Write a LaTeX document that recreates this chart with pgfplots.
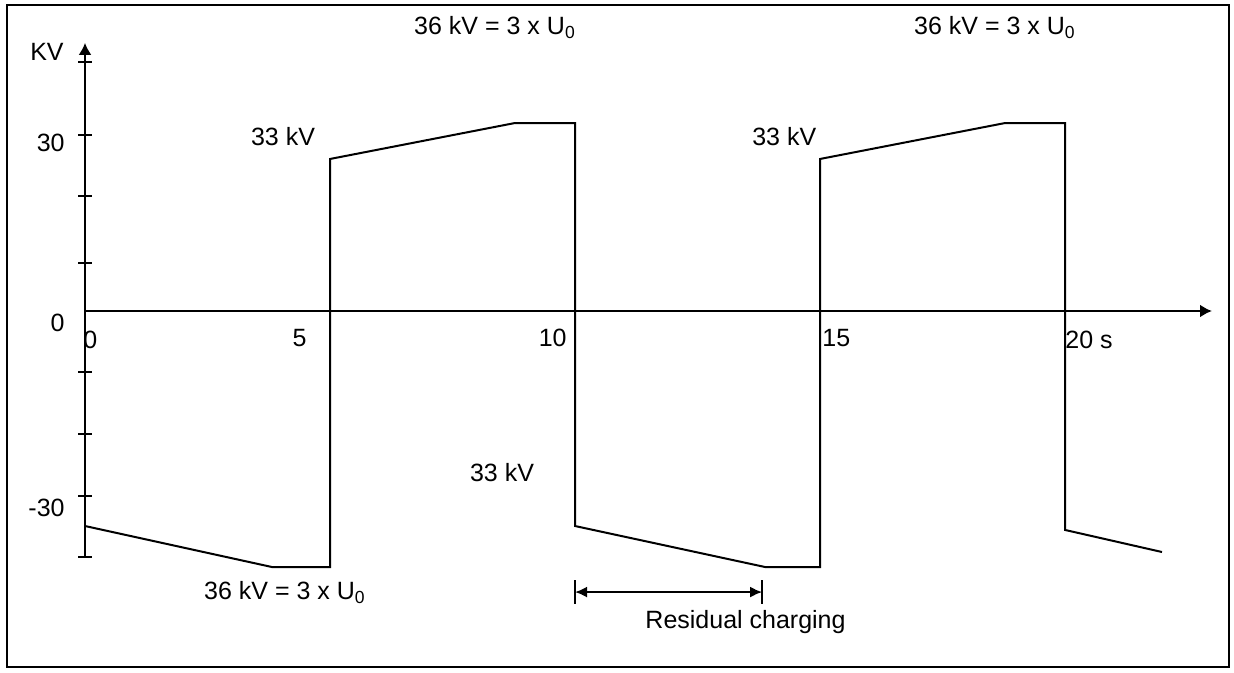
\documentclass[border=0pt]{standalone}
\usepackage{pgfplots}
\pgfplotsset{compat=1.18}
\usepackage{fontspec}
\setmainfont{Liberation Sans}
\usetikzlibrary{arrows.meta}
\begin{document}
\begin{tikzpicture}
\begin{axis}[
  x=24.5bp, y=3.075bp,
  axis lines=middle,
  xmin=0, xmax=23, ymin=-40, ymax=43.6,
  enlargelimits=false,
  clip=false,
  xtick=\empty,
  ytick={-40,-30.1,-20,-9.9,7.8,18.7,28.6,40.5},
  yticklabel=\empty,
  tick align=center,
  major tick length=7bp,
  tick style={line width=1.1bp, black},
  axis line style={line width=1.1bp},
  every inner x axis line/.append style={-{Latex[length=6bp,width=6.5bp]}},
  every inner y axis line/.append style={-{Latex[length=6bp,width=6.5bp]}},
  font=\fontsize{12.5bp}{15bp}\selectfont,
]
\addplot[black, line width=1bp, mark=none] coordinates {
  (0,-34.96) (3.816,-41.63) (5,-41.63) (5,24.72) (8.776,30.57) (10,30.57)
  (10,-34.96) (13.88,-41.63) (15,-41.63) (15,24.72) (18.78,30.57) (20,30.57)
  (20,-35.6) (21.98,-39.19)
};
% frame
\draw[line width=0.9bp] (axis cs:-1.592,49.76) rectangle (axis cs:23.35,-57.89);
\path (axis cs:-1.735,50.57) coordinate (tr0) (axis cs:23.449,-58.70) coordinate (bl0);
% axis texts
\node at (axis cs:-0.776,42.11) {KV};
\node[anchor=east, inner sep=0pt] at (axis cs:-0.408,27.32) {30};
\node[anchor=east, inner sep=0pt] at (axis cs:-0.408,-1.95) {0};
\node[anchor=east, inner sep=0pt] at (axis cs:-0.408,-32.03) {-30};
\node[anchor=west, inner sep=0pt] at (axis cs:-0.041,-4.72) {0};
\node[anchor=east, inner sep=0pt] at (axis cs:4.531,-4.39) {5};
\node[anchor=east, inner sep=0pt] at (axis cs:9.837,-4.39) {10};
\node[anchor=west, inner sep=0pt] at (axis cs:15.04,-4.39) {15};
\node[anchor=west, inner sep=0pt] at (axis cs:20.0,-4.72) {20 s};
% annotations
\node at (axis cs:4.041,28.29) {33 kV};
\node at (axis cs:14.27,28.29) {33 kV};
\node at (axis cs:8.51,-26.34) {33 kV};
\node at (axis cs:8.367,46.02) {36 kV = 3 x U\textsubscript{0}};
\node at (axis cs:18.57,46.02) {36 kV = 3 x U\textsubscript{0}};
\node at (axis cs:4.08,-45.7) {36 kV = 3 x U\textsubscript{0}};
\node[anchor=west, inner sep=0pt] at (axis cs:11.43,-50.57) {Residual charging};
% residual charging arrow
\draw[line width=1bp, {Latex[length=6bp,width=5.5bp]}-{Latex[length=6bp,width=5.5bp]}] (axis cs:10,-45.7) -- (axis cs:13.82,-45.7);
\draw[line width=1bp] (axis cs:10,-43.8) -- (axis cs:10,-47.6);
\draw[line width=1bp] (axis cs:13.82,-43.8) -- (axis cs:13.82,-47.6);
\end{axis}
\path (tr0) rectangle (bl0);
\end{tikzpicture}
\end{document}
